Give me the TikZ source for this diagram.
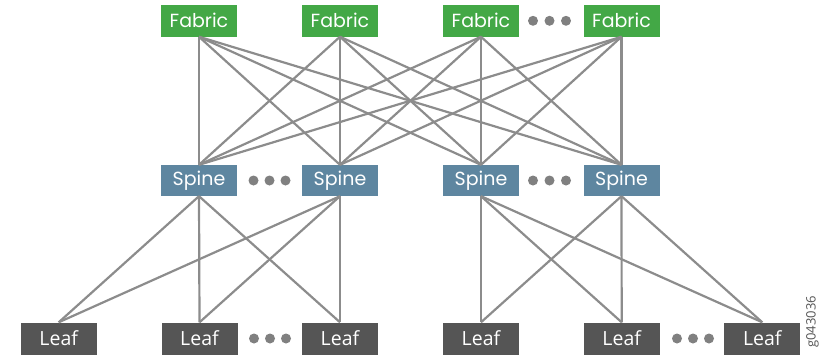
\documentclass[tikz,border=0pt]{standalone}
\usepackage{fontspec}
\setmainfont{Poppins}
\newfontfamily\leaffont{Open Sans}
\newfontfamily\tagfont{Open Sans}
\definecolor{fabricgreen}{RGB}{67,168,70}
\definecolor{spineblue}{RGB}{94,134,160}
\definecolor{leafgray}{RGB}{85,85,85}
\definecolor{linkgray}{RGB}{140,140,140}
\definecolor{dotgray}{RGB}{128,128,128}
\tikzset{
  box/.style={rectangle, inner sep=0pt, minimum width=76pt, text=white},
  fabricbox/.style={box, fill=fabricgreen, minimum height=31.5pt, font=\fontsize{19}{19}\selectfont},
  spinebox/.style={box, fill=spineblue, minimum height=31pt, font=\fontsize{19}{19}\selectfont},
  leafbox/.style={box, fill=leafgray, minimum height=32pt, font=\leaffont\fontsize{19.5}{19.5}\selectfont},
  link/.style={draw=linkgray, line width=2.2pt},
  dot/.style={circle, fill=dotgray, inner sep=0pt, minimum size=10pt},
}
\begin{document}
\begin{tikzpicture}[x=1pt, y=-1pt]
\useasboundingbox (0,0) rectangle (820,359);

% fabric tier
\node[fabricbox] (f1) at (199,20.8) {Fabric};
\node[fabricbox] (f2) at (340,20.8) {Fabric};
\node[fabricbox] (f3) at (481,20.8) {Fabric};
\node[fabricbox] (f4) at (621.5,20.8) {Fabric};

% spine tier
\node[spinebox] (s1) at (199,180.5) {Spine};
\node[spinebox] (s2) at (340,180.5) {Spine};
\node[spinebox] (s3) at (481,180.5) {Spine};
\node[spinebox] (s4) at (621.5,180.5) {Spine};

% leaf tier
\node[leafbox] (l1) at (58.7,338.5) {Leaf};
\node[leafbox] (l2) at (199.5,338.5) {Leaf};
\node[leafbox] (l3) at (340,338.5) {Leaf};
\node[leafbox] (l4) at (481,338.5) {Leaf};
\node[leafbox] (l5) at (621.7,338.5) {Leaf};
\node[leafbox] (l6) at (762.3,338.5) {Leaf};

% ellipsis dots
\foreach \n/\x/\y in {fa/533/20.8, fb/549.5/20.8, fc/566/20.8,
                      sa/253.5/180.5, sb/269.5/180.5, sc/285.5/180.5,
                      sd/533/180.5, se/549.5/180.5, sf/566/180.5,
                      la/254/338.5, lb/270/338.5, lc/286/338.5,
                      ld/677/338.5, le/693/338.5, lf/709/338.5}
  \node[dot] (dot\n) at (\x,\y) {};

% full mesh between fabric and spine
\foreach \f in {f1,f2,f3,f4}
  \foreach \s in {s1,s2,s3,s4}
    \draw[link] (\f.south) -- (\s.north);

% spine to leaf, left pod
\foreach \s in {s1,s2}
  \foreach \l in {l1,l2,l3}
    \draw[link] (\s.south) -- (\l.north);

% spine to leaf, right pod
\foreach \s in {s3,s4}
  \foreach \l in {l4,l5,l6}
    \draw[link] (\s.south) -- (\l.north);

% figure tag
\node[rotate=90, text=leafgray, font=\tagfont\fontsize{13}{13}\selectfont, inner sep=0pt] (tag) at (812.5,322) {g043036};
\end{tikzpicture}
\end{document}
